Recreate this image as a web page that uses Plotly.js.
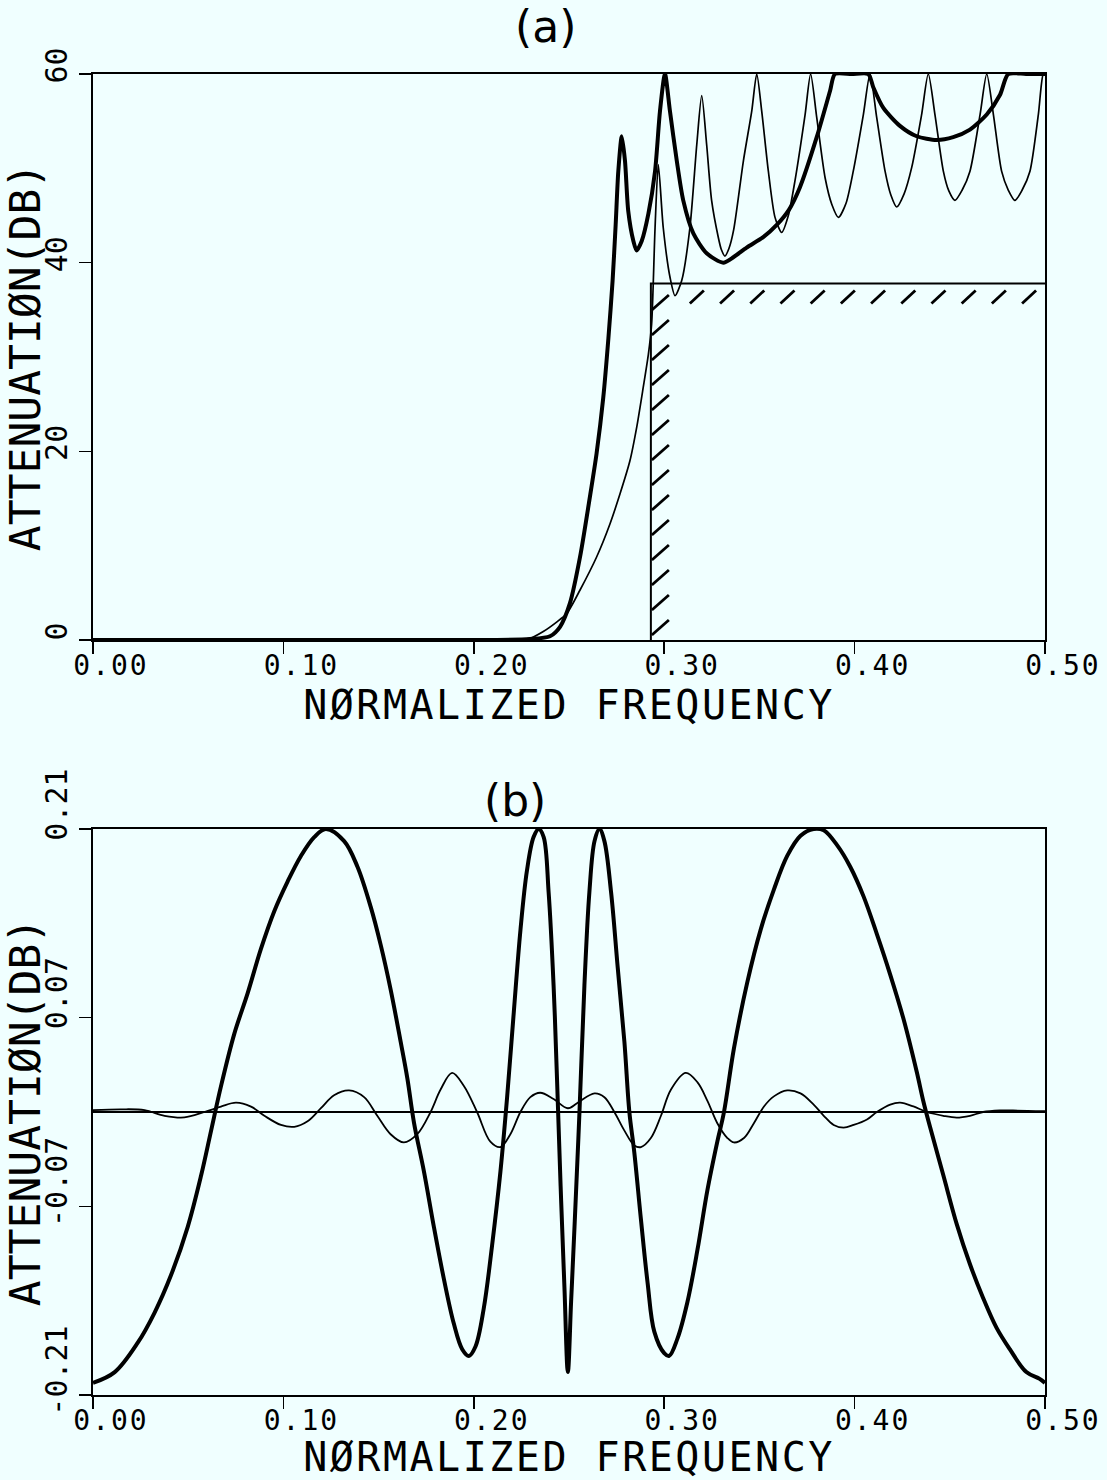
<!DOCTYPE html>
<html>
<head>
<meta charset="utf-8">
<script src="https://cdn.plot.ly/plotly-3.0.1.min.js"></script>
<style>
html, body { margin: 0; padding: 0; background: #f0ffff; }
#chart { width: 1107px; height: 1480px; }
/* plotter lettering is wider-spaced than the monospace font */
#chart .xtitle, #chart .x2title { letter-spacing: 2.5px; }
#chart .xtick text, #chart .x2tick text { letter-spacing: 2px; }
</style>
</head>
<body>
<div id="chart"></div>
<script>
// ---------- Panel (a): attenuation, dB ----------
const freqA_thick = [0, 0.05, 0.1, 0.15, 0.2, 0.212, 0.2295, 0.24, 0.2453, 0.2505, 0.2558, 0.261, 0.2645, 0.268, 0.2707, 0.2729, 0.2745, 0.2759, 0.2777, 0.2794, 0.2811, 0.2838, 0.2855, 0.2882, 0.2917, 0.2952, 0.2978, 0.3004, 0.303, 0.3066, 0.31, 0.3153, 0.3223, 0.331, 0.3365, 0.3433, 0.352, 0.3591, 0.3655, 0.3713, 0.3801, 0.3871, 0.3897, 0.3985, 0.4072, 0.4098, 0.4151, 0.4238, 0.4326, 0.4431, 0.4518, 0.4606, 0.4694, 0.4764, 0.4807, 0.49, 0.5];
const attA_thick = [0, 0, 0, 0, 0, 0, 0.1, 0.4, 1.4, 3.9, 8.8, 15.2, 19.8, 25.7, 32.0, 38.1, 44.0, 49.7, 53.4, 50.8, 45.5, 42.3, 41.3, 42.3, 45.2, 49.7, 56.1, 60, 56.1, 50.8, 46.6, 43.1, 41.0, 40.0, 40.6, 41.6, 42.7, 44.0, 45.6, 48.0, 53.3, 58.2, 60, 60, 60, 58.6, 56.4, 54.5, 53.4, 53.0, 53.3, 54.1, 55.7, 57.8, 60, 60, 60];

const freqA_thin = [0, 0.05, 0.1, 0.15, 0.2, 0.215, 0.2295, 0.2365, 0.2435, 0.2488, 0.2558, 0.2645, 0.2715, 0.2768, 0.282, 0.2856, 0.289, 0.2917, 0.2934, 0.2952, 0.2969, 0.2995, 0.3031, 0.3057, 0.3092, 0.3135, 0.3171, 0.3197, 0.3223, 0.3249, 0.3284, 0.33, 0.3319, 0.334, 0.3365, 0.3416, 0.346, 0.3486, 0.3512, 0.3547, 0.3582, 0.3617, 0.3652, 0.3687, 0.374, 0.3769, 0.3801, 0.3845, 0.388, 0.3915, 0.3955, 0.3993, 0.4046, 0.4081, 0.4116, 0.416, 0.419, 0.4221, 0.426, 0.43, 0.4352, 0.4387, 0.4422, 0.4466, 0.4495, 0.4527, 0.4565, 0.4606, 0.4659, 0.4694, 0.4729, 0.4772, 0.4807, 0.4842, 0.488, 0.4921, 0.4965, 0.4991, 0.5];
const attA_thin = [0, 0, 0, 0, 0, 0.03, 0.18, 0.9, 1.9, 2.8, 5.3, 8.8, 12.3, 15.5, 19.0, 22.6, 26.8, 30.3, 33.5, 43.7, 50.4, 43.7, 38.4, 36.5, 38.1, 43.7, 52.5, 57.7, 52.5, 46.6, 42.7, 41.4, 40.7, 41.5, 43.5, 50.8, 56.1, 60, 56.1, 49.7, 44.8, 43.2, 45.0, 48.7, 55.7, 60, 55.4, 49.0, 46.2, 44.8, 46.3, 49.7, 55.7, 60, 55.4, 49.7, 47.2, 45.9, 47.3, 50.1, 55.7, 60, 55.7, 49.7, 47.6, 46.6, 47.7, 49.7, 55.7, 60, 55.7, 49.7, 47.7, 46.6, 47.7, 49.7, 55.7, 60, 60];

// stopband specification mask (edge frequency, minimum attenuation)
const specFreq = [0.293, 0.293, 0.5];
const specAtt = [0, 37.8, 37.8];

// ---------- Panel (b): passband detail, dB ----------
const freqB_thick = [0, 0.0114, 0.0236, 0.0323, 0.041, 0.0498, 0.0568, 0.062, 0.0672, 0.0742, 0.0812, 0.0882, 0.0952, 0.1022, 0.1092, 0.1162, 0.1223, 0.1319, 0.1389, 0.1459, 0.1511, 0.1563, 0.1616, 0.1651, 0.1686, 0.1738, 0.179, 0.1843, 0.1895, 0.1939, 0.1974, 0.2009, 0.2052, 0.2096, 0.214, 0.2175, 0.221, 0.2245, 0.2279, 0.2314, 0.2341, 0.2367, 0.2393, 0.2419, 0.2437, 0.2456, 0.2476, 0.2494, 0.2511, 0.2529, 0.2555, 0.2581, 0.2607, 0.2634, 0.266, 0.2686, 0.2721, 0.2756, 0.2791, 0.2817, 0.2843, 0.2878, 0.2913, 0.2948, 0.3, 0.3026, 0.307, 0.3122, 0.3175, 0.3227, 0.3279, 0.3314, 0.3366, 0.3436, 0.3506, 0.3576, 0.3646, 0.3716, 0.3785, 0.3838, 0.3908, 0.3977, 0.4047, 0.4117, 0.4187, 0.4257, 0.4326, 0.4361, 0.4396, 0.4466, 0.4536, 0.4606, 0.4675, 0.4745, 0.4815, 0.4902, 0.4972, 0.5];
const attB_thick = [-0.201, -0.193, -0.171, -0.149, -0.121, -0.085, -0.047, -0.014, 0.019, 0.058, 0.088, 0.121, 0.149, 0.171, 0.190, 0.204, 0.210, 0.201, 0.182, 0.152, 0.124, 0.091, 0.052, 0.025, -0.008, -0.044, -0.085, -0.124, -0.157, -0.176, -0.181, -0.174, -0.146, -0.099, -0.044, 0.011, 0.074, 0.135, 0.179, 0.204, 0.210, 0.204, 0.163, 0.094, 0.025, -0.055, -0.13, -0.193, -0.141, -0.085, 0, 0.094, 0.163, 0.201, 0.210, 0.201, 0.163, 0.107, 0.052, 0, -0.030, -0.080, -0.127, -0.163, -0.179, -0.181, -0.168, -0.141, -0.102, -0.058, -0.022, 0, 0.047, 0.096, 0.135, 0.165, 0.190, 0.205, 0.210, 0.209, 0.198, 0.182, 0.160, 0.132, 0.102, 0.069, 0.030, 0.008, -0.011, -0.047, -0.083, -0.113, -0.138, -0.160, -0.176, -0.193, -0.198, -0.201];

const freqB_thin = [0, 0.0148, 0.0271, 0.0376, 0.048, 0.0585, 0.0672, 0.0751, 0.083, 0.09, 0.0987, 0.1057, 0.1127, 0.1197, 0.1266, 0.1345, 0.1424, 0.1493, 0.1563, 0.1633, 0.1703, 0.1773, 0.1825, 0.1886, 0.1948, 0.2017, 0.2087, 0.214, 0.2192, 0.2245, 0.2297, 0.2349, 0.2419, 0.2494, 0.2546, 0.2634, 0.2686, 0.2738, 0.2791, 0.2843, 0.2878, 0.293, 0.2983, 0.3035, 0.3113, 0.3175, 0.3227, 0.3279, 0.3332, 0.3366, 0.3419, 0.3471, 0.3524, 0.3576, 0.3646, 0.3716, 0.3785, 0.3838, 0.389, 0.3942, 0.3995, 0.4065, 0.4117, 0.4187, 0.4239, 0.4309, 0.4379, 0.4466, 0.4536, 0.4606, 0.4675, 0.4763, 0.4832, 0.5];
const attB_thin = [0.0014, 0.002, 0.0014, -0.0028, -0.004, 0, 0.004, 0.0069, 0.004, -0.0028, -0.0096, -0.011, -0.0069, 0.0028, 0.0124, 0.016, 0.011, -0.0028, -0.0165, -0.0226, -0.0165, 0, 0.0165, 0.029, 0.0193, 0, -0.022, -0.026, -0.0165, 0, 0.011, 0.0143, 0.0096, 0.0028, 0.0069, 0.0138, 0.011, 0, -0.0138, -0.0248, -0.026, -0.0193, -0.0028, 0.0165, 0.029, 0.022, 0.0083, -0.0083, -0.0193, -0.0226, -0.0193, -0.0083, 0.0041, 0.0116, 0.016, 0.0138, 0.0055, -0.0028, -0.0096, -0.0116, -0.0096, -0.0055, 0, 0.0055, 0.0069, 0.0041, 0, -0.0028, -0.0041, -0.0028, 0, 0.0011, 0.0011, 0.0006];

// ---------- Axis ticks / labels ----------
const xTicks = [0, 0.1, 0.2, 0.3, 0.4, 0.5];
const yTicksA = [0, 20, 40, 60];
const yTicksB = [-0.21, -0.07, 0.07, 0.21];
const yTickTextB = ['-0.21', '-0.07', '0.07', '0.21'];
const xTitle = 'NØRMALIZED FREQUENCY';
const yTitle = 'ATTENUATIØN(DB)';
const panelLabels = ['(a)', '(b)'];

// ---------- layout geometry ----------
const W = 1107, H = 1480, ML = 93, MR = 62;
const domA = [(H - 640) / H, (H - 74) / H];
const domB = [(H - 1395) / H, (H - 829) / H];
const xRange = [0, 0.5], yRangeA = [0, 60], yRangeB = [-0.21, 0.21];

// pixel -> data scale for the hatch strokes of the spec mask
const pxX = (W - ML - MR) / (xRange[1] - xRange[0]);
const pxYA = (domA[1] - domA[0]) * H / (yRangeA[1] - yRangeA[0]);
const hx = [], hy = [];
(function () {
  const edge = specFreq[1], lev = specAtt[1];
  for (let x = edge + 39 / pxX; x + 13 / pxX < xRange[1] - 8 / pxX; x += 30.2 / pxX) {
    hx.push(x, x + 14 / pxX, null);
    hy.push(lev - 20 / pxYA, lev - 7 / pxYA, null);
  }
  for (let y = 5 / pxYA; y + 15 / pxYA <= lev; y += 25 / pxYA) {
    hx.push(edge + 1 / pxX, edge + 18 / pxX, null);
    hy.push(y, y + 15 / pxYA, null);
  }
})();

const black = '#000000';
const traces = [
  { x: specFreq, y: specAtt, xaxis: 'x', yaxis: 'y', mode: 'lines', line: { color: black, width: 2 }, hoverinfo: 'skip' },
  { x: hx, y: hy, xaxis: 'x', yaxis: 'y', mode: 'lines', line: { color: black, width: 2.8 }, connectgaps: false, hoverinfo: 'skip' },
  { x: freqA_thin, y: attA_thin, xaxis: 'x', yaxis: 'y', mode: 'lines', line: { color: black, width: 1.7, shape: 'spline', smoothing: 0.7 } },
  { x: freqA_thick, y: attA_thick, xaxis: 'x', yaxis: 'y', mode: 'lines', line: { color: black, width: 4, shape: 'spline', smoothing: 0.7 } },
  { x: freqB_thin, y: attB_thin, xaxis: 'x2', yaxis: 'y2', mode: 'lines', line: { color: black, width: 1.8, shape: 'spline', smoothing: 1 } },
  { x: freqB_thick, y: attB_thick, xaxis: 'x2', yaxis: 'y2', mode: 'lines', line: { color: black, width: 4, shape: 'spline', smoothing: 1 } }
];

const tickFont = { family: 'DejaVu Sans Mono', size: 28, color: black };
function xAxis(anchor) {
  return {
    anchor: anchor, domain: [0, 1], range: xRange, tickvals: xTicks, tickformat: '.2f',
    showgrid: false, zeroline: false, showline: true, linecolor: black, linewidth: 2, mirror: true,
    ticks: 'outside', ticklen: 12, tickwidth: 1.5, tickcolor: black, tickfont: tickFont,
    ticklabelshift: 18, ticklabelstandoff: -13, automargin: false, fixedrange: true,
    title: { text: xTitle, font: { family: 'DejaVu Sans Mono', size: 40, color: black }, standoff: 0 }
  };
}
function yAxis(anchor, dom, range, vals, text, shift, zl) {
  const a = {
    anchor: anchor, domain: dom, range: range, tickvals: vals, tickangle: -90,
    showgrid: false, zeroline: zl, zerolinecolor: black, zerolinewidth: 1.8,
    showline: true, linecolor: black, linewidth: 2, mirror: true,
    ticks: 'outside', ticklen: 12, tickwidth: 1.5, tickcolor: black,
    tickfont: { family: 'DejaVu Sans Mono', size: 30, color: black },
    ticklabelshift: shift, automargin: false, fixedrange: true,
    title: { text: yTitle, font: { family: 'DejaVu Sans Mono', size: 43, color: black }, standoff: 2 }
  };
  if (text) a.ticktext = text;
  return a;
}

const layout = {
  width: W, height: H,
  margin: { l: ML, r: MR, t: 0, b: 0 },
  paper_bgcolor: '#f0ffff', plot_bgcolor: '#f0ffff',
  showlegend: false,
  xaxis: xAxis('y'),
  yaxis: yAxis('x', domA, yRangeA, yTicksA, null, -4, false),
  xaxis2: xAxis('y2'),
  yaxis2: yAxis('x2', domB, yRangeB, yTicksB, yTickTextB, -20, true),
  annotations: [
    { text: panelLabels[0], xref: 'paper', yref: 'paper', x: (545 - ML) / (W - ML - MR), y: 1 - 27 / H, xanchor: 'center', yanchor: 'middle', showarrow: false, font: { family: 'DejaVu Sans', size: 44, color: black } },
    { text: panelLabels[1], xref: 'paper', yref: 'paper', x: (515 - ML) / (W - ML - MR), y: 1 - 800 / H, xanchor: 'center', yanchor: 'middle', showarrow: false, font: { family: 'DejaVu Sans', size: 44, color: black } }
  ]
};

Plotly.newPlot('chart', traces, layout, { staticPlot: true, displayModeBar: false });
</script>
</body>
</html>
